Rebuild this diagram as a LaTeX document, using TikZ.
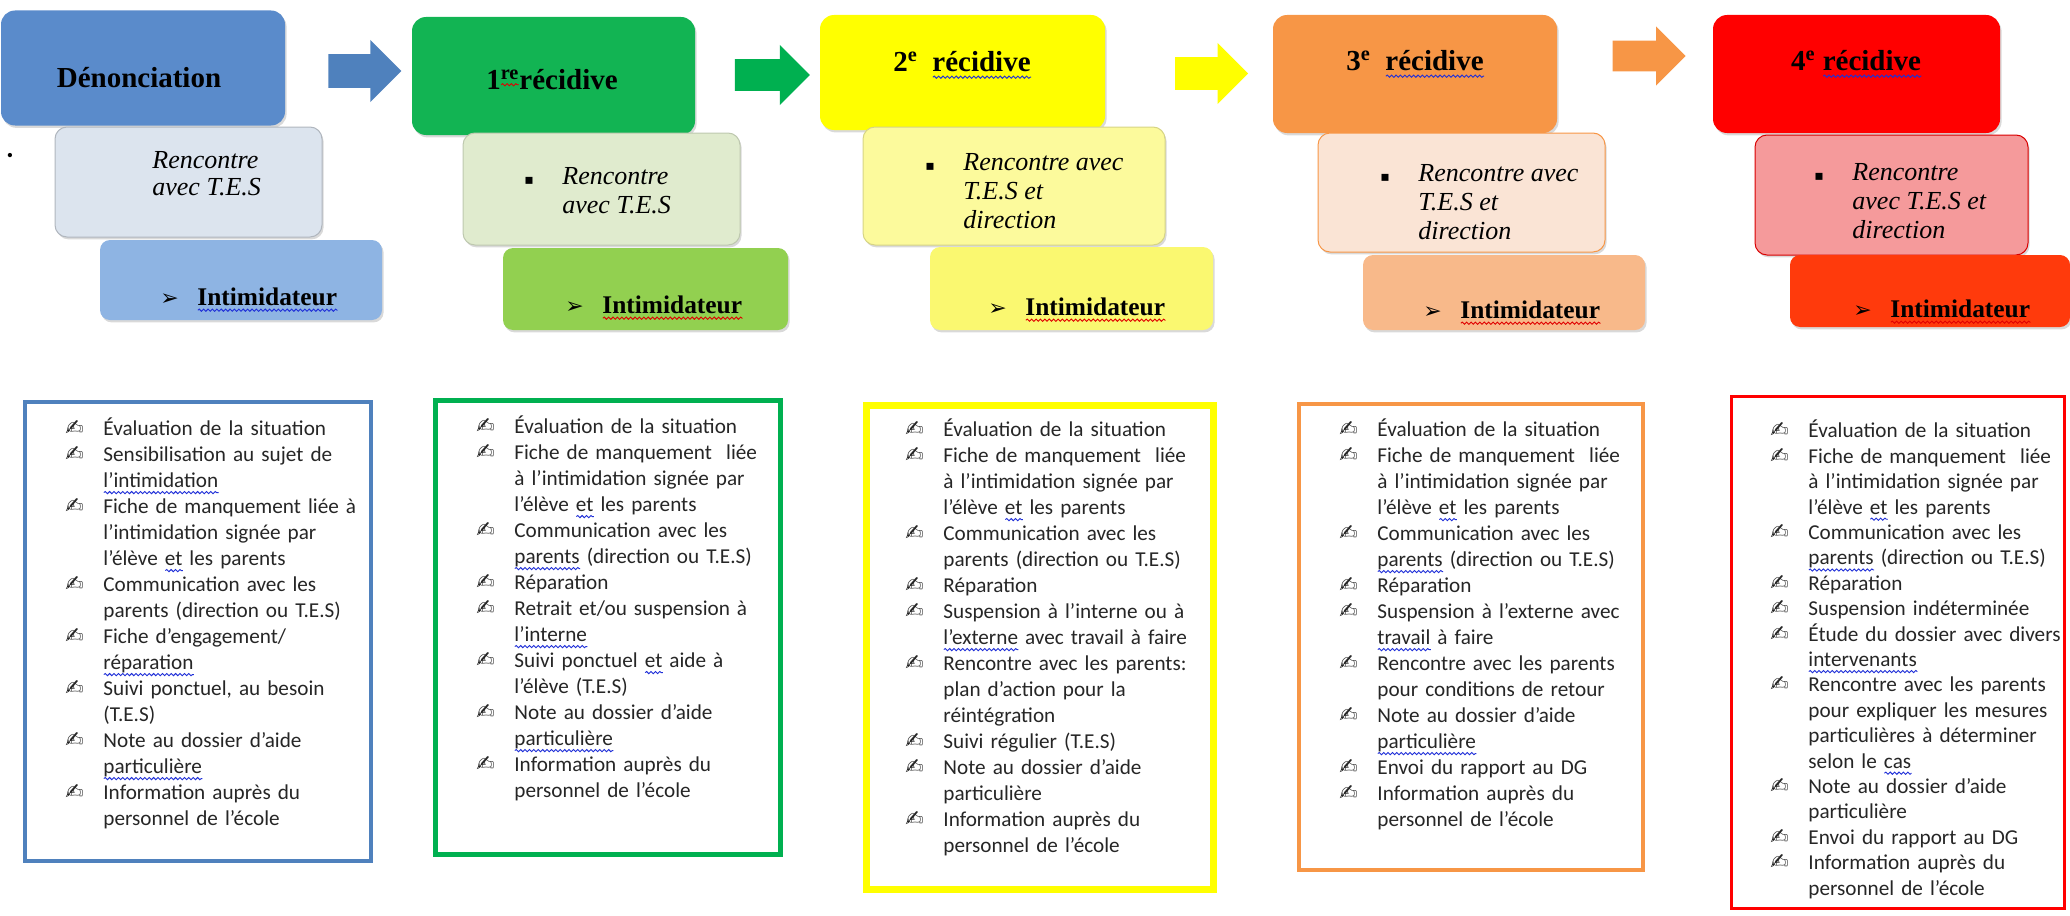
\documentclass[tikz,border=0pt]{standalone}
\usepackage{fontspec}
\setmainfont{Liberation Serif}
\newfontfamily\calibri{Carlito}
\newfontfamily\dejavu{DejaVu Sans}
\usetikzlibrary{shapes.arrows,shadows,decorations.pathmorphing}
\definecolor{hdrblue}{HTML}{5A8BCB}
\definecolor{subblue}{HTML}{DCE4EE}
\definecolor{intblue}{HTML}{8EB4E3}
\definecolor{arrblue}{HTML}{4F81BD}
\definecolor{hdrgreen}{HTML}{12B453}
\definecolor{subgreen}{HTML}{E0EBCE}
\definecolor{intgreen}{HTML}{92D050}
\definecolor{arrgreen}{HTML}{00B050}
\definecolor{hdryellow}{HTML}{FFFF00}
\definecolor{subyellow}{HTML}{FCFA9C}
\definecolor{intyellow}{HTML}{FAF870}
\definecolor{arryellow}{HTML}{FFFF00}
\definecolor{hdrorange}{HTML}{F79646}
\definecolor{suborange}{HTML}{FAE4D5}
\definecolor{intorange}{HTML}{F8B98A}
\definecolor{arrorange}{HTML}{F79646}
\definecolor{hdrred}{HTML}{FF0000}
\definecolor{subred}{HTML}{F59A9B}
\definecolor{intred}{HTML}{FF3A0C}
\definecolor{sqblue}{HTML}{1F2FD8}
\definecolor{sqred}{HTML}{E00000}
\newsavebox\sqbox
\newdimen\sqlen
\newcommand{\sqw}[2]{\sbox\sqbox{#2}\sqlen=\wd\sqbox\leavevmode
  \rlap{\tikz[baseline=0pt]\draw[#1, line width=.45pt, decorate,
    decoration={snake, amplitude=.55pt, segment length=2.2pt}] (0pt,-2.6pt) -- (\sqlen,-2.6pt);}%
  \usebox\sqbox}
\newcommand{\sqb}{\sqw{sqblue}}
\newcommand{\sqr}{\sqw{sqred}}
\newcommand{\bul}{\makebox[19pt][l]{\dejavu\fontsize{11pt}{11pt}\selectfont ✍}}
\newcommand{\itm}[1]{\par\leftskip=19pt\noindent\llap{\bul}#1\par}
\newcommand{\sqbul}{\llap{\makebox[19pt][l]{\dejavu\fontsize{7pt}{7pt}\selectfont ▪}}}
\newcommand{\tip}{\makebox[18.5pt][l]{\dejavu\fontsize{11pt}{11pt}\selectfont ➢}}
\tikzset{
  hdr/.style={rounded corners=7pt, draw=none,
    drop shadow={opacity=.3, shadow xshift=.8pt, shadow yshift=-1.2pt}},
  subbox/.style={rounded corners=6pt, line width=.5pt,
    drop shadow={opacity=.3, shadow xshift=.8pt, shadow yshift=-1.2pt}},
  intim/.style={rounded corners=5pt, draw=none,
    drop shadow={opacity=.3, shadow xshift=.8pt, shadow yshift=-1.2pt}},
  frame/.style={draw, fill=white, inner sep=0pt},
  shfr/.style={drop shadow={opacity=.45, shadow xshift=1.2pt, shadow yshift=-1.2pt}},
  arr/.style={single arrow, draw=none, inner xsep=0pt},
  hdrtxt/.style={font=\fontsize{14.5pt}{16pt}\selectfont\bfseries, inner sep=0pt, anchor=base},
  subtxt/.style={font=\fontsize{13pt}{14.5pt}\selectfont\itshape, align=left,
    anchor=north west, inner sep=0pt},
  inttxt/.style={font=\fontsize{12.7pt}{14pt}\selectfont\bfseries, anchor=base west, inner sep=0pt},
  listtxt/.style={font=\calibri\fontsize{10.6pt}{13pt}\selectfont, text width=152pt,
    align=left, anchor=north west, inner sep=0pt, text=black!85},
}
\begin{document}
\begin{tikzpicture}[x=0.5pt,y=-0.5pt]
\useasboundingbox (0,0) rectangle (2070,915); %% page

%% denonciation
\node[hdr, fill=hdrblue, minimum width=142pt, minimum height=57.5pt] (h1) at (143,68) {};
\node[hdrtxt] (h1t) at (139,88) {Dénonciation};
\node[subbox, fill=subblue, draw=subblue!80!black, minimum width=133.5pt, minimum height=55pt] (s1) at (188.5,182) {};
\node[subtxt, font=\fontsize{13pt}{13.5pt}\selectfont\itshape] (s1t) at (152,151) {Rencontre\\avec T.E.S};
\node[inner sep=0pt] (dot1) at (10,157) {\small•};
\node[intim, fill=intblue, minimum width=141pt, minimum height=40pt] (i1) at (241,280) {};
\node[inttxt] (i1t) at (160,305) {\tip\sqb{Intimidateur}};
\node[arr, fill=arrblue, minimum height=36.5pt, minimum width=31pt, inner ysep=8.25pt] (ar1) at (356.5,71) {};

%% 1re recidive
\node[hdr, fill=hdrgreen, minimum width=141.5pt, minimum height=59pt] (h2) at (553.5,76) {};
\node[hdrtxt] (h2t) at (552,90) {1\textsuperscript{\sqr{re}}récidive};
\node[subbox, fill=subgreen, draw=subgreen!85!black, minimum width=138.5pt, minimum height=56pt] (s2) at (601.5,189) {};
\node[subtxt] (s2t) at (562,167) {\sqbul Rencontre\\avec T.E.S};
\node[intim, fill=intgreen, minimum width=142.5pt, minimum height=41pt] (i2) at (645.5,289) {};
\node[inttxt] (i2t) at (565,313) {\tip\sqr{Intimidateur}};
\node[arr, fill=arrgreen, minimum height=37.5pt, minimum width=28pt, inner ysep=7.75pt] (ar2) at (764.5,75) {};

%% 2e recidive
\node[hdr, fill=hdryellow, minimum width=142.5pt, minimum height=57.5pt] (h3) at (962.5,72.5) {};
\node[hdrtxt] (h3t) at (962,72) {2\textsuperscript{e}\ \ \sqb{récidive}};
\node[subbox, fill=subyellow, draw=subyellow!85!black, minimum width=151pt, minimum height=59pt] (s3) at (1014,186) {};
\node[subtxt] (s3t) at (963,153) {\sqbul Rencontre avec\\T.E.S et\\direction};
\node[intim, fill=intyellow, minimum width=141.5pt, minimum height=41.5pt] (i3) at (1071.5,288.5) {};
\node[inttxt] (i3t) at (988,315) {\tip\sqr{Intimidateur}};
\node[arr, fill=arryellow, minimum height=36.5pt, minimum width=28.5pt, inner ysep=8pt] (ar3) at (1203.5,73.5) {};

%% 3e recidive
\node[hdr, fill=hdrorange, minimum width=142pt, minimum height=59pt] (h4) at (1415,74) {};
\node[hdrtxt] (h4t) at (1415,71) {3\textsuperscript{e}\ \ \sqb{récidive}};
\node[subbox, fill=suborange, draw=hdrorange, minimum width=143.5pt, minimum height=59.5pt] (s4) at (1461.5,192.5) {};
\node[subtxt] (s4t) at (1418,164) {\sqbul Rencontre avec\\T.E.S et\\direction};
\node[intim, fill=intorange, minimum width=141pt, minimum height=37.5pt] (i4) at (1504,292.5) {};
\node[inttxt] (i4t) at (1423,318) {\tip\sqr{Intimidateur}};
\node[arr, fill=arrorange, minimum height=36.5pt, minimum width=29pt, inner ysep=7.5pt] (ar4) at (1641.5,56) {};

%% 4e recidive
\node[hdr, fill=hdrred, minimum width=143.5pt, minimum height=59pt] (h5) at (1856.5,74) {};
\node[hdrtxt] (h5t) at (1856,71) {4\textsuperscript{e} \sqb{récidive}};
\node[subbox, fill=subred, draw=hdrred!85!black, minimum width=136.5pt, minimum height=60pt] (s5) at (1891.5,195) {};
\node[subtxt] (s5t) at (1852,163) {\sqbul Rencontre\\avec T.E.S et\\direction};
\node[intim, fill=intred, minimum width=140pt, minimum height=36pt] (i5) at (1930,291) {};
\node[inttxt] (i5t) at (1853,317) {\tip\sqr{Intimidateur}};

%% listes
\node[frame, shfr, draw=arrblue, line width=2pt, minimum width=173pt, minimum height=229.5pt] (f1) at (198,631.5) {};
\node[listtxt] (l1) at (65,409) {%
\itm{Évaluation de la situation}
\itm{Sensibilisation au sujet de\\\sqb{l’intimidation}}
\itm{Fiche de manquement liée à\\l’intimidation signée par\\l’élève \sqb{et} les parents}
\itm{Communication avec les\\parents (direction ou T.E.S)}
\itm{Fiche d’engagement/\\\sqb{réparation}}
\itm{Suivi ponctuel, au besoin\\(T.E.S)}
\itm{Note au dossier d’aide\\\sqb{particulière}}
\itm{Information auprès du\\personnel de l’école}};

\node[frame, shfr, draw=arrgreen, line width=2.5pt, minimum width=172.5pt, minimum height=227pt] (f2) at (608,627.5) {};
\node[listtxt] (l2) at (476,407) {%
\itm{Évaluation de la situation}
\itm{Fiche de manquement\ \ liée\\à l’intimidation signée par\\l’élève \sqb{et} les parents}
\itm{Communication avec les\\\sqb{parents} (direction ou T.E.S)}
\itm{Réparation}
\itm{Retrait et/ou suspension à\\\sqb{l’interne}}
\itm{Suivi ponctuel \sqb{et} aide à\\l’élève (T.E.S)}
\itm{Note au dossier d’aide\\\sqb{particulière}}
\itm{Information auprès du\\personnel de l’école}};

\node[frame, shfr, draw=arryellow, line width=3.5pt, minimum width=173.5pt, minimum height=242pt] (f3) at (1040,647.5) {};
\node[listtxt] (l3) at (905,410) {%
\itm{Évaluation de la situation}
\itm{Fiche de manquement\ \ liée\\à l’intimidation signée par\\l’élève \sqb{et} les parents}
\itm{Communication avec les\\parents (direction ou T.E.S)}
\itm{Réparation}
\itm{Suspension à l’interne ou à\\\sqb{l’externe} avec travail à faire}
\itm{Rencontre avec les parents:\\plan d’action pour la\\réintégration}
\itm{Suivi régulier (T.E.S)}
\itm{Note au dossier d’aide\\particulière}
\itm{Information auprès du\\personnel de l’école}};

\node[frame, shfr, draw=arrorange, line width=2pt, minimum width=172pt, minimum height=233pt] (f4) at (1471,637) {};
\node[listtxt] (l4) at (1339,410) {%
\itm{Évaluation de la situation}
\itm{Fiche de manquement\ \ liée\\à l’intimidation signée par\\l’élève \sqb{et} les parents}
\itm{Communication avec les\\\sqb{parents} (direction ou T.E.S)}
\itm{Réparation}
\itm{Suspension à l’externe avec\\\sqb{travail} à faire}
\itm{Rencontre avec les parents\\pour conditions de retour}
\itm{Note au dossier d’aide\\\sqb{particulière}}
\itm{Envoi du rapport au DG}
\itm{Information auprès du\\personnel de l’école}};

\node[frame, draw=hdrred, line width=1.5pt, minimum width=166.5pt, minimum height=256pt] (f5) at (1898,652.5) {};
\node[listtxt, font=\calibri\fontsize{10.6pt}{12.7pt}\selectfont] (l5) at (1770,412) {%
\itm{Évaluation de la situation}
\itm{Fiche de manquement\ \ liée\\à l’intimidation signée par\\l’élève \sqb{et} les parents}
\itm{Communication avec les\\\sqb{parents} (direction ou T.E.S)}
\itm{Réparation}
\itm{Suspension indéterminée}
\itm{Étude du dossier avec divers\\\sqb{intervenants}}
\itm{Rencontre avec les parents\\pour expliquer les mesures\\particulières à déterminer\\selon le \sqb{cas}}
\itm{Note au dossier d’aide\\particulière}
\itm{Envoi du rapport au DG}
\itm{Information auprès du\\personnel de l’école}};

\end{tikzpicture}
\end{document}
